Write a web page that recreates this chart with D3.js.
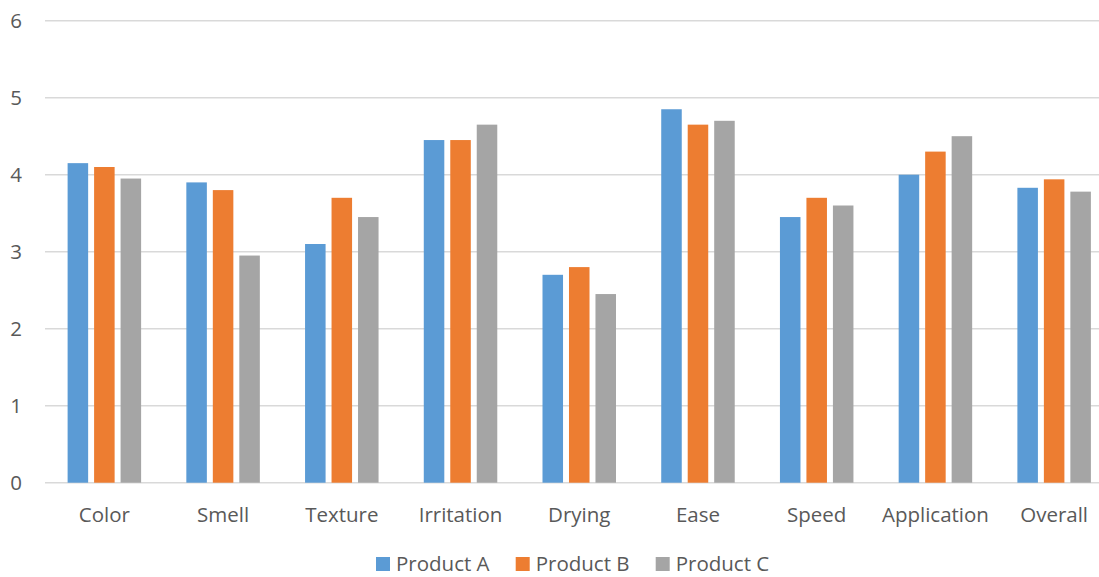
<!DOCTYPE html>
<html lang="en">
<head>
<meta charset="utf-8">
<title>Product ratings</title>
<script src="https://d3js.org/d3.v7.min.js"></script>
<style>
body { margin: 0; background: #fff; }
svg { display: block; font-family: "Open Sans", sans-serif; }
.axis text { fill: #595959; font-size: 20.5px; font-family: "Open Sans", sans-serif; }
.axis path, .axis line { display: none; }
.grid line { stroke: #d9d9d9; stroke-width: 1.5px; }
</style>
</head>
<body>
<script>

// data
var categories = ["Color", "Smell", "Texture", "Irritation", "Drying", "Ease", "Speed", "Application", "Overall"];
var seriesNames = ["Product A", "Product B", "Product C"];
var productA = [4.15, 3.90, 3.10, 4.45, 2.70, 4.85, 3.45, 4.00, 3.83];
var productB = [4.10, 3.80, 3.70, 4.45, 2.80, 4.65, 3.70, 4.30, 3.94];
var productC = [3.95, 2.95, 3.45, 4.65, 2.45, 4.70, 3.60, 4.50, 3.78];
var yTicks = [0, 1, 2, 3, 4, 5, 6];
var colors = ["#5b9bd5", "#ed7d31", "#a5a5a5"];

var width = 1099, height = 577;
var plot = {left: 45, right: 1113.5, top: 20.7, bottom: 482.7};

var svg = d3.select("body").append("svg")
    .attr("width", width)
    .attr("height", height);

var xScale = d3.scaleBand()
    .domain(categories)
    .range([plot.left, plot.right])
    .padding(0);

// bars inside one category
var groupWidth = 73.5;
var xInner = d3.scaleBand()
    .domain(seriesNames)
    .range([-groupWidth / 2, groupWidth / 2])
    .paddingInner(0.225);

var yScale = d3.scaleLinear().domain([0, 6]).range([plot.bottom, plot.top]);

// gridlines
svg.append("g")
    .attr("class", "grid")
    .selectAll("line")
    .data(yTicks)
    .enter().append("line")
    .attr("x1", plot.left)
    .attr("x2", width)
    .attr("y1", function(d) { return yScale(d); })
    .attr("y2", function(d) { return yScale(d); });

// y axis labels
var yAxis = d3.axisLeft(yScale).tickValues(yTicks).tickFormat(d3.format("d")).tickSize(0).tickPadding(0);
svg.append("g")
    .attr("class", "y axis")
    .attr("transform", "translate(22,0)")
    .call(yAxis)
    .attr("font-family", null)
    .attr("font-size", null)
    .selectAll("text")
    .attr("dy", "0.35em");

// x axis labels
var xAxis = d3.axisBottom(xScale).tickSize(0).tickPadding(0);
svg.append("g")
    .attr("class", "x axis")
    .attr("transform", "translate(0,522)")
    .call(xAxis)
    .attr("font-family", null)
    .attr("font-size", null)
    .selectAll("text")
    .attr("dy", 0);

var table = [productA, productB, productC];

var groups = svg.selectAll(".series")
    .data(seriesNames)
    .enter().append("g")
    .attr("class", "series")
    .attr("fill", function(d, i) { return colors[i]; });

groups.selectAll("rect")
    .data(function(s, i) {
      return categories.map(function(c, j) { return {cat: c, series: s, value: table[i][j]}; });
    })
    .enter().append("rect")
    .attr("x", function(d) { return xScale(d.cat) + xScale.bandwidth() / 2 + xInner(d.series); })
    .attr("y", function(d) { return yScale(d.value); })
    .attr("width", xInner.bandwidth())
    .attr("height", function(d) { return yScale(0) - yScale(d.value); });

// legend
var legendX = [376, 515.7, 655.7];
var legend = svg.selectAll(".legend")
    .data(seriesNames)
    .enter().append("g")
    .attr("class", "legend")
    .attr("transform", function(d, i) { return "translate(" + legendX[i] + ",0)"; });

legend.append("rect")
    .attr("y", 557)
    .attr("width", 14)
    .attr("height", 14)
    .attr("fill", function(d, i) { return colors[i]; });

legend.append("text")
    .attr("x", 20)
    .attr("y", 571)
    .style("font-size", "20.5px")
    .style("fill", "#595959")
    .text(function(d) { return d; });

</script>
</body>
</html>
